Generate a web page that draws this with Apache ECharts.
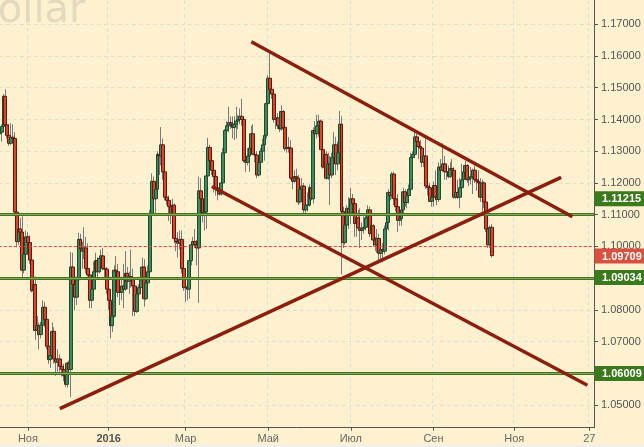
<!DOCTYPE html>
<html><head><meta charset="utf-8">
<script src="https://cdn.jsdelivr.net/npm/echarts@6/dist/echarts.min.js"></script>
<style>html,body{margin:0;padding:0;background:#fef1d0;}#c{width:644px;height:447px;}</style>
</head><body><div id="c"></div>
<script>
// Daily candles: [day, open, high, low, close]
const oct15 = [[12,1.1355,1.1387,1.1340,1.1360],[13,1.1360,1.1385,1.1330,1.1378],[14,1.1378,1.1480,1.1370,1.1473],[15,1.1473,1.1495,1.1375,1.1383],[16,1.1383,1.1405,1.1340,1.1350],[19,1.1350,1.1385,1.1317,1.1325],[20,1.1325,1.1388,1.1320,1.1344],[21,1.1344,1.1385,1.1330,1.1340],[22,1.1340,1.1360,1.1100,1.1108],[23,1.1108,1.1130,1.0997,1.1015],[26,1.1015,1.1065,1.1005,1.1055],[27,1.1055,1.1090,1.1030,1.1045],[28,1.1045,1.1095,1.0895,1.0925],[29,1.0925,1.1010,1.0915,1.0975],[30,1.0975,1.1050,1.0965,1.1030]];
const nov15 = [[2,1.1030,1.1045,1.0990,1.1012],[3,1.1012,1.1035,1.0945,1.0957],[4,1.0957,1.0975,1.0855,1.0860],[5,1.0860,1.0900,1.0850,1.0880],[6,1.0880,1.0905,1.0705,1.0735],[9,1.0735,1.0780,1.0720,1.0750],[10,1.0750,1.0760,1.0675,1.0722],[11,1.0722,1.0762,1.0710,1.0752],[12,1.0752,1.0830,1.0740,1.0808],[13,1.0808,1.0825,1.0745,1.0770],[16,1.0770,1.0775,1.0675,1.0685],[17,1.0685,1.0705,1.0630,1.0643],[18,1.0643,1.0690,1.0617,1.0656],[19,1.0656,1.0760,1.0650,1.0732],[20,1.0732,1.0745,1.0630,1.0645],[23,1.0645,1.0650,1.0592,1.0635],[24,1.0635,1.0675,1.0605,1.0645],[25,1.0645,1.0660,1.0605,1.0622],[26,1.0622,1.0630,1.0590,1.0612],[27,1.0612,1.0630,1.0575,1.0592],[30,1.0592,1.0603,1.0557,1.0565]];
const dec15 = [[1,1.0565,1.0635,1.0555,1.0632],[2,1.0632,1.0640,1.0575,1.0612],[3,1.0612,1.0982,1.0524,1.0935],[4,1.0935,1.0980,1.0845,1.0880],[7,1.0880,1.0888,1.0798,1.0840],[8,1.0840,1.0905,1.0815,1.0895],[9,1.0895,1.1043,1.0880,1.1022],[10,1.1022,1.1040,1.0935,1.0992],[11,1.0992,1.1015,1.0930,1.0985],[14,1.0985,1.1060,1.0960,1.0995],[15,1.0995,1.1030,1.0915,1.0930],[16,1.0930,1.1010,1.0905,1.0910],[17,1.0910,1.0925,1.0805,1.0830],[18,1.0830,1.0875,1.0805,1.0865],[21,1.0865,1.0952,1.0860,1.0920],[22,1.0920,1.0980,1.0915,1.0955],[23,1.0955,1.0965,1.0900,1.0920],[24,1.0920,1.0970,1.0915,1.0962],[28,1.0962,1.0990,1.0945,1.0970],[29,1.0970,1.0995,1.0925,1.0930],[30,1.0930,1.0945,1.0900,1.0928],[31,1.0928,1.0935,1.0850,1.0865]];
const jan16 = [[4,1.0865,1.0905,1.0800,1.0830],[5,1.0830,1.0835,1.0710,1.0750],[6,1.0750,1.0800,1.0730,1.0780],[7,1.0780,1.0940,1.0775,1.0925],[8,1.0925,1.0970,1.0800,1.0920],[11,1.0920,1.0945,1.0840,1.0855],[12,1.0855,1.0875,1.0815,1.0855],[13,1.0855,1.0905,1.0830,1.0875],[14,1.0875,1.0945,1.0805,1.0865],[15,1.0865,1.0985,1.0860,1.0915],[18,1.0915,1.0935,1.0865,1.0890],[19,1.0890,1.0920,1.0850,1.0905],[20,1.0905,1.0990,1.0870,1.0895],[21,1.0895,1.0930,1.0780,1.0875],[22,1.0875,1.0880,1.0780,1.0795],[25,1.0795,1.0860,1.0790,1.0850],[26,1.0850,1.0880,1.0815,1.0870],[27,1.0870,1.0920,1.0850,1.0895],[28,1.0895,1.0965,1.0885,1.0935],[29,1.0935,1.0960,1.0810,1.0835]];
const feb16 = [[1,1.0835,1.0905,1.0830,1.0885],[2,1.0885,1.0940,1.0875,1.0920],[3,1.0920,1.1115,1.0905,1.1100],[4,1.1100,1.1230,1.1080,1.1205],[5,1.1205,1.1220,1.1110,1.1150],[8,1.1150,1.1200,1.1095,1.1180],[9,1.1180,1.1300,1.1160,1.1290],[10,1.1290,1.1300,1.1225,1.1285],[11,1.1285,1.1376,1.1255,1.1320],[12,1.1320,1.1340,1.1210,1.1235],[15,1.1235,1.1260,1.1145,1.1155],[16,1.1155,1.1225,1.1130,1.1145],[17,1.1145,1.1160,1.1080,1.1125],[18,1.1125,1.1145,1.1070,1.1100],[19,1.1100,1.1150,1.1065,1.1130],[22,1.1130,1.1135,1.1010,1.1025],[23,1.1025,1.1045,1.0985,1.1015],[24,1.1015,1.1045,1.0965,1.1010],[25,1.1010,1.1050,1.0990,1.1022],[26,1.1022,1.1050,1.0915,1.0930],[29,1.0930,1.0995,1.0860,1.0870]];
const mar16 = [[1,1.0870,1.0900,1.0825,1.0872],[2,1.0872,1.0880,1.0830,1.0865],[3,1.0865,1.0965,1.0835,1.0955],[4,1.0955,1.1015,1.0940,1.1005],[7,1.1005,1.1030,1.0960,1.1015],[8,1.1015,1.1055,1.0995,1.1005],[9,1.1005,1.1020,1.0940,1.0995],[10,1.0995,1.1220,1.0822,1.1175],[11,1.1175,1.1215,1.1120,1.1150],[14,1.1150,1.1160,1.1075,1.1105],[15,1.1105,1.1130,1.1050,1.1108],[16,1.1108,1.1245,1.1055,1.1222],[17,1.1222,1.1342,1.1205,1.1312],[18,1.1312,1.1320,1.1245,1.1270],[21,1.1270,1.1285,1.1225,1.1240],[22,1.1240,1.1245,1.1170,1.1220],[23,1.1220,1.1225,1.1160,1.1185],[24,1.1185,1.1195,1.1145,1.1175],[25,1.1175,1.1190,1.1160,1.1165],[28,1.1165,1.1210,1.1160,1.1200],[29,1.1200,1.1310,1.1195,1.1295],[30,1.1295,1.1370,1.1285,1.1365],[31,1.1365,1.1395,1.1330,1.1380]];
const apr16 = [[1,1.1380,1.1440,1.1360,1.1390],[4,1.1390,1.1410,1.1370,1.1385],[5,1.1385,1.1410,1.1340,1.1375],[6,1.1375,1.1410,1.1335,1.1385],[7,1.1385,1.1440,1.1340,1.1395],[8,1.1395,1.1415,1.1370,1.1400],[11,1.1400,1.1435,1.1385,1.1410],[12,1.1410,1.1465,1.1380,1.1400],[13,1.1400,1.1405,1.1265,1.1270],[14,1.1270,1.1300,1.1235,1.1265],[15,1.1265,1.1310,1.1255,1.1285],[18,1.1285,1.1330,1.1235,1.1310],[19,1.1310,1.1380,1.1305,1.1355],[20,1.1355,1.1385,1.1290,1.1290],[21,1.1290,1.1340,1.1265,1.1288],[22,1.1288,1.1300,1.1215,1.1225],[25,1.1225,1.1280,1.1220,1.1265],[26,1.1265,1.1310,1.1255,1.1300],[27,1.1300,1.1340,1.1295,1.1320],[28,1.1320,1.1370,1.1270,1.1350],[29,1.1350,1.1460,1.1340,1.1450]];
const may16 = [[2,1.1450,1.1540,1.1440,1.1530],[3,1.1530,1.1616,1.1490,1.1495],[4,1.1495,1.1530,1.1465,1.1480],[5,1.1480,1.1495,1.1390,1.1400],[6,1.1400,1.1445,1.1370,1.1405],[9,1.1405,1.1420,1.1370,1.1380],[10,1.1380,1.1405,1.1360,1.1370],[11,1.1370,1.1445,1.1365,1.1425],[12,1.1425,1.1430,1.1370,1.1375],[13,1.1375,1.1395,1.1300,1.1308],[16,1.1308,1.1340,1.1295,1.1312],[17,1.1312,1.1345,1.1295,1.1310],[18,1.1310,1.1335,1.1210,1.1215],[19,1.1215,1.1230,1.1180,1.1205],[20,1.1205,1.1240,1.1200,1.1220],[23,1.1220,1.1245,1.1200,1.1215],[24,1.1215,1.1225,1.1130,1.1140],[25,1.1140,1.1185,1.1135,1.1180],[26,1.1180,1.1215,1.1150,1.1190],[27,1.1190,1.1200,1.1100,1.1115],[30,1.1115,1.1150,1.1105,1.1130],[31,1.1130,1.1170,1.1110,1.1130]];
const jun16 = [[1,1.1130,1.1195,1.1125,1.1185],[2,1.1185,1.1215,1.1145,1.1150],[3,1.1150,1.1375,1.1135,1.1365],[6,1.1365,1.1395,1.1325,1.1355],[7,1.1355,1.1415,1.1340,1.1380],[8,1.1380,1.1415,1.1345,1.1395],[9,1.1395,1.1400,1.1305,1.1305],[10,1.1305,1.1330,1.1245,1.1250],[13,1.1250,1.1300,1.1230,1.1290],[14,1.1290,1.1300,1.1210,1.1215],[15,1.1215,1.1295,1.1210,1.1260],[16,1.1260,1.1285,1.1130,1.1225],[17,1.1225,1.1295,1.1215,1.1280],[20,1.1280,1.1360,1.1275,1.1320],[21,1.1320,1.1345,1.1225,1.1260],[22,1.1260,1.1330,1.1240,1.1295],[23,1.1295,1.1427,1.1285,1.1385],[24,1.1385,1.1410,1.0912,1.1110],[27,1.1110,1.1125,1.0995,1.1012],[28,1.1012,1.1095,1.1005,1.1067],[29,1.1067,1.1130,1.1060,1.1120],[30,1.1120,1.1155,1.1055,1.1105]];
const jul16 = [[1,1.1105,1.1185,1.1070,1.1150],[4,1.1150,1.1165,1.1115,1.1135],[5,1.1135,1.1140,1.1030,1.1072],[6,1.1072,1.1105,1.1030,1.1090],[7,1.1090,1.1115,1.1050,1.1058],[8,1.1058,1.1120,1.0995,1.1050],[11,1.1050,1.1075,1.1020,1.1055],[12,1.1055,1.1095,1.1040,1.1060],[13,1.1060,1.1100,1.1050,1.1090],[14,1.1090,1.1130,1.1065,1.1115],[15,1.1115,1.1125,1.1030,1.1040],[18,1.1040,1.1080,1.1035,1.1065],[19,1.1065,1.1070,1.1000,1.1020],[20,1.1020,1.1030,1.0985,1.1005],[21,1.1005,1.1055,1.0980,1.1025],[22,1.1025,1.1040,1.0955,1.0978],[25,1.0978,1.1005,1.0955,1.0990],[26,1.0990,1.1010,1.0950,1.0985],[27,1.0985,1.1065,1.0975,1.1055],[28,1.1055,1.1095,1.1045,1.1075],[29,1.1075,1.1180,1.1050,1.1170]];
const aug16 = [[1,1.1170,1.1190,1.1145,1.1160],[2,1.1160,1.1235,1.1150,1.1228],[3,1.1228,1.1235,1.1130,1.1150],[4,1.1150,1.1155,1.1110,1.1125],[5,1.1125,1.1165,1.1045,1.1082],[8,1.1082,1.1105,1.1065,1.1088],[9,1.1088,1.1125,1.1065,1.1115],[10,1.1115,1.1185,1.1105,1.1172],[11,1.1172,1.1180,1.1125,1.1138],[12,1.1138,1.1170,1.1120,1.1160],[15,1.1160,1.1195,1.1135,1.1180],[16,1.1180,1.1295,1.1165,1.1280],[17,1.1280,1.1300,1.1255,1.1290],[18,1.1290,1.1365,1.1285,1.1345],[19,1.1345,1.1355,1.1300,1.1330],[22,1.1330,1.1335,1.1275,1.1315],[23,1.1315,1.1335,1.1285,1.1310],[24,1.1310,1.1315,1.1250,1.1265],[25,1.1265,1.1300,1.1250,1.1285],[26,1.1285,1.1342,1.1180,1.1190],[29,1.1190,1.1200,1.1160,1.1185],[30,1.1185,1.1200,1.1140,1.1142],[31,1.1142,1.1170,1.1125,1.1155]];
const sep16 = [[1,1.1155,1.1205,1.1125,1.1192],[2,1.1192,1.1240,1.1145,1.1155],[5,1.1155,1.1170,1.1130,1.1148],[6,1.1148,1.1265,1.1140,1.1250],[7,1.1250,1.1275,1.1230,1.1240],[8,1.1240,1.1325,1.1235,1.1260],[9,1.1260,1.1285,1.1210,1.1235],[12,1.1235,1.1260,1.1210,1.1235],[13,1.1235,1.1255,1.1215,1.1220],[14,1.1220,1.1265,1.1215,1.1245],[15,1.1245,1.1275,1.1225,1.1240],[16,1.1240,1.1250,1.1150,1.1155],[19,1.1155,1.1205,1.1150,1.1170],[20,1.1170,1.1210,1.1150,1.1155],[21,1.1155,1.1215,1.1120,1.1185],[22,1.1185,1.1260,1.1180,1.1210],[23,1.1210,1.1250,1.1200,1.1235],[26,1.1235,1.1270,1.1215,1.1255],[27,1.1255,1.1260,1.1200,1.1210],[28,1.1210,1.1230,1.1190,1.1215],[29,1.1215,1.1250,1.1195,1.1220],[30,1.1220,1.1245,1.1165,1.1240]];
const oct16 = [[3,1.1240,1.1255,1.1200,1.1210],[4,1.1210,1.1230,1.1175,1.1205],[5,1.1205,1.1240,1.1180,1.1200],[6,1.1200,1.1215,1.1140,1.1155],[7,1.1155,1.1210,1.1110,1.1200],[10,1.1200,1.1205,1.1120,1.1140],[11,1.1140,1.1150,1.1045,1.1055],[12,1.1055,1.1070,1.0995,1.1005],[13,1.1005,1.1065,1.0995,1.1060],[14,1.1060,1.1070,1.0965,1.09709]];

const monthPrefixes = ['2015-10-','2015-11-','2015-12-','2016-01-','2016-02-','2016-03-','2016-04-','2016-05-','2016-06-','2016-07-','2016-08-','2016-09-','2016-10-'];
const monthRows = [oct15,nov15,dec15,jan16,feb16,mar16,apr16,may16,jun16,jul16,aug16,sep16,oct16];

// Horizontal levels
const levelValues = [1.11215, 1.09034, 1.06009];
const levelLabels = ['1.11215', '1.09034', '1.06009'];
const lastPrice = 1.09709;
const lastPriceLabel = '1.09709';

// Trend lines [date, price]
const trendUpper   = [['2016-04-19', 1.16452], ['2016-12-14', 1.10935]];
const trendRising  = [['2015-11-25', 1.04887], ['2016-12-06', 1.12177]];
const trendFalling = [['2016-03-21', 1.11888], ['2016-12-26', 1.05622]];

// X tick labels
const tickDates = ['2015-11-02','2016-01-04','2016-03-01','2016-05-02','2016-07-01','2016-09-01','2016-11-01','2016-12-27'];
const tickTexts = ['Ноя','2016','Мар','Май','Июл','Сен','Ноя','27'];

const holidays = ['2015-12-25','2016-01-01'];

// categories: trading weekdays
const categories = [];
for (let t = Date.UTC(2015,9,12); t <= Date.UTC(2016,11,29); t += 86400000) {
  const d = new Date(t); const wd = d.getUTCDay();
  if (wd === 0 || wd === 6) continue;
  const s = d.toISOString().slice(0,10);
  if (holidays.includes(s)) continue;
  categories.push(s);
}
const byDate = {};
monthRows.forEach((rows, i) => rows.forEach(r => { byDate[monthPrefixes[i] + String(r[0]).padStart(2,'0')] = r.slice(1); }));
const candleData = categories.map(d => { const r = byDate[d]; return r ? [r[0], r[3], r[2], r[1]] : '-'; });
const bodyData = categories.map(d => { const r = byDate[d]; return r ? [r[0], r[3], Math.min(r[0], r[3]), Math.max(r[0], r[3])] : '-'; });

const FONT = '"Liberation Sans", Arial, sans-serif';
const isTick = (i, v) => tickDates.includes(v);
const gridLine = { color: '#e2dfd7', type: [4, 3], width: 1 };

const levelMarks = [];
levelValues.forEach((v, i) => {
  levelMarks.push({ yAxis: v, lineStyle: { color: '#44741f', width: 3.2, type: 'solid' } });
  levelMarks.push({ yAxis: v, lineStyle: { color: '#83a85a', width: 1, type: 'solid' } });
});
levelMarks.push({ yAxis: lastPrice, lineStyle: { color: '#e8463a', width: 1, type: [3, 2] } });
[trendUpper, trendRising, trendFalling].forEach(tl => {
  levelMarks.push([{ coord: tl[0], lineStyle: { color: '#8b1e0c', width: 3.5, type: 'solid' } }, { coord: tl[1] }]);
});

const chart = echarts.init(document.getElementById('c'), null, { renderer: 'canvas' });
const baseGraphics = [
  { type: 'text', x: -33, y: -8, z: 1, silent: true, style: { text: 'Dollar', font: '40px "DejaVu Sans"', fill: '#e3d9bd' } },
  { type: 'rect', z: 1, silent: true, shape: { x: 0, y: 445, width: 644, height: 2 }, style: { fill: '#eceef0' } }
];
chart.setOption({
  animation: false,
  backgroundColor: '#fef1d0',
  grid: { left: -1.2, right: 50, top: 0, bottom: 19.3, containLabel: false, outerBoundsMode: 'none' },
  graphic: baseGraphics,
  xAxis: {
    type: 'category', data: categories, boundaryGap: true,
    axisLine: { show: true, onZero: false, lineStyle: { color: '#555', width: 1 } },
    axisTick: { show: true, alignWithLabel: true, interval: isTick, length: 3, lineStyle: { color: '#555' } },
    axisLabel: { interval: isTick, margin: 6, color: '#666', fontSize: 11, fontFamily: FONT,
      formatter: v => { const k = tickDates.indexOf(v); const t = k >= 0 ? tickTexts[k] : ''; return t === '2016' ? '{b|' + t + '}' : t; },
      rich: { b: { fontWeight: 'bold', color: '#555', fontSize: 11, fontFamily: FONT } } },
    splitLine: { show: true, interval: isTick, lineStyle: gridLine }
  },
  yAxis: {
    type: 'value', position: 'right', min: 1.04284, max: 1.17766, splitNumber: 13, scale: true,
    axisLine: { show: true, lineStyle: { color: '#555', width: 1 } },
    axisTick: { show: true, length: 4, lineStyle: { color: '#555' } },
    axisLabel: { formatter: v => v.toFixed(5), color: '#555', fontSize: 11, fontFamily: FONT, margin: 7, showMinLabel: false, showMaxLabel: false },
    splitLine: { show: true, showMinLine: false, showMaxLine: false, lineStyle: gridLine }
  },
  series: [
    { type: 'candlestick', name: 'wick', data: candleData, barWidth: 1, z: 2,
      itemStyle: { color: '#7a7a7a', color0: '#7a7a7a', borderColor: '#7a7a7a', borderColor0: '#7a7a7a', borderWidth: 1 } },
    { type: 'candlestick', name: 'body', data: bodyData, barWidth: 3.4, z: 3,
      itemStyle: { color: '#3d8c5d', color0: '#e0432c', borderColor: '#1d4b2c', borderColor0: '#5b1a0c', borderWidth: 1 },
      markLine: { silent: true, symbol: ['none', 'none'], label: { show: false }, animation: false, z: 5, data: levelMarks } }
  ]
});

// Price tags on the right axis, positioned through the y axis scale
const tags = [
  { value: levelValues[0], text: levelLabels[0], fill: '#3b7a1c', shift: -9 },
  { value: levelValues[1], text: levelLabels[1], fill: '#3b7a1c', shift: 0.5 },
  { value: levelValues[2], text: levelLabels[2], fill: '#3b7a1c', shift: 0.5 },
  { value: lastPrice, text: lastPriceLabel, fill: '#d9503f', shift: 0.5 }
];
const tagGraphics = [];
tags.forEach(t => {
  const y = chart.convertToPixel({ yAxisIndex: 0 }, t.value) + t.shift;
  tagGraphics.push({ type: 'rect', z: 200, zlevel: 1, silent: true, shape: { x: 594.5, y: y - 7.5, width: 52, height: 15 }, style: { fill: t.fill } });
  tagGraphics.push({ type: 'text', z: 201, zlevel: 1, silent: true, x: 602, y: y + 0.5,
    style: { text: t.text, fill: '#fff', font: 'bold 11px "Liberation Sans", Arial, sans-serif', verticalAlign: 'middle', align: 'left' } });
});
chart.setOption({ graphic: baseGraphics.concat(tagGraphics) });
</script></body></html>
